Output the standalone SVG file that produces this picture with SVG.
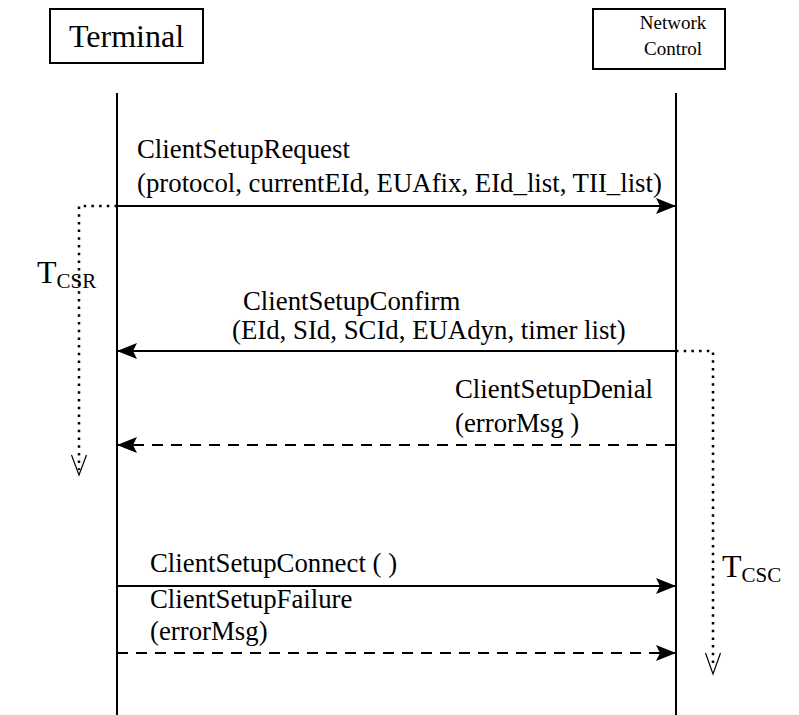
<svg xmlns="http://www.w3.org/2000/svg" width="799" height="715" viewBox="0 0 799 715" font-family="'Liberation Serif', 'Times New Roman', serif">
  <style>
    text { font-family: "Liberation Serif", "Times New Roman", serif; fill: #000; }
    .box { fill: #fff; stroke: #000; stroke-width: 2; }
    .life { stroke: #000; stroke-width: 2; fill: none; }
    .msg { stroke: #000; stroke-width: 2; fill: none; }
    .dash { stroke-dasharray: 11 8; }
    .timer { stroke: #000; stroke-width: 2.5; fill: none; stroke-dasharray: 2.5 5.2; }
    .vhead { stroke: #000; stroke-width: 1.2; fill: none; }
    .lbl { font-size: 26.8px; }
  </style>
  <defs>
    <marker id="arrow" viewBox="0 0 20 16" refX="20" refY="8" markerWidth="20" markerHeight="16" markerUnits="userSpaceOnUse" orient="auto">
      <path d="M0,0 L20,8 L0,16 L4,8 Z" fill="#000"/>
    </marker>
  </defs>

  <!-- participants -->
  <g id="terminal">
    <rect class="box" x="50" y="9" width="153" height="54"/>
    <text x="126.5" y="47" font-size="32" text-anchor="middle">Terminal</text>
  </g>
  <g id="network-control">
    <rect class="box" x="593" y="9" width="132" height="60"/>
    <text x="673" y="29" font-size="19" text-anchor="middle">Network</text>
    <text x="673" y="55" font-size="19" text-anchor="middle">Control</text>
  </g>

  <!-- lifelines -->
  <g id="lifelines">
    <line class="life" x1="117" y1="93" x2="117" y2="715"/>
    <line class="life" x1="676" y1="93" x2="676" y2="715"/>
  </g>

  <!-- messages -->
  <g id="connectors">
    <line class="msg" x1="117" y1="206" x2="676" y2="206" marker-end="url(#arrow)"/>
    <line class="msg" x1="676" y1="351" x2="117" y2="351" marker-end="url(#arrow)"/>
    <line class="msg dash" x1="676" y1="445" x2="117" y2="445" marker-end="url(#arrow)"/>
    <line class="msg" x1="117" y1="586" x2="676" y2="586" marker-end="url(#arrow)"/>
    <line class="msg dash" x1="117" y1="653" x2="676" y2="653" marker-end="url(#arrow)"/>

    <!-- timers -->
    <path class="timer" d="M117,206 H79 V470"/>
    <path class="vhead" d="M71.5,455 L79,475 L86.5,455"/>
    <path class="timer" d="M676,351 H713 V668"/>
    <path class="vhead" d="M705.5,653 L713,674 L720.5,653"/>
  </g>

  <!-- labels -->
  <g id="labels">
    <text class="lbl" x="137" y="158">ClientSetupRequest</text>
    <text class="lbl" x="137" y="192">(protocol, currentEId, EUAfix, EId_list, TII_list)</text>
    <text class="lbl" x="243" y="310">ClientSetupConfirm</text>
    <text class="lbl" x="232" y="339">(EId, SId, SCId, EUAdyn, timer list)</text>
    <text class="lbl" x="455" y="398">ClientSetupDenial</text>
    <text class="lbl" x="455" y="432">(errorMsg )</text>
    <text class="lbl" x="150" y="572">ClientSetupConnect ( )</text>
    <text class="lbl" x="150" y="608">ClientSetupFailure</text>
    <text class="lbl" x="150" y="640">(errorMsg)</text>
    <text x="37" y="283" font-size="32">T<tspan font-size="21" dy="5">CSR</tspan></text>
    <text x="722" y="577" font-size="32">T<tspan font-size="21" dy="5">CSC</tspan></text>
  </g>
</svg>
